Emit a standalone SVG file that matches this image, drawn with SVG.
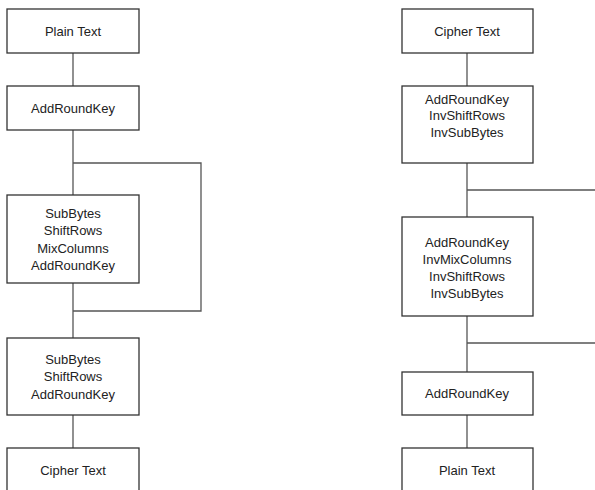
<svg xmlns="http://www.w3.org/2000/svg" width="595" height="490" viewBox="0 0 595 490">
<style>
.box{fill:#fff;stroke:#333;stroke-width:1.3}
.ln{fill:none;stroke:#555;stroke-width:1.3}
text{font-family:"Liberation Sans",Arial,sans-serif;font-size:13px;fill:#222;text-anchor:middle}
</style>
<rect width="595" height="490" fill="#fff"/>
<g id="connectors">
<line class="ln" x1="73" y1="53" x2="73" y2="86"/>
<line class="ln" x1="73" y1="130" x2="73" y2="195"/>
<polyline class="ln" points="73,163 201,163 201,311 73,311"/>
<line class="ln" x1="73" y1="283" x2="73" y2="338"/>
<line class="ln" x1="73" y1="415" x2="73" y2="448"/>
<line class="ln" x1="467" y1="53" x2="467" y2="86"/>
<line class="ln" x1="467" y1="163" x2="467" y2="217"/>
<line class="ln" x1="467" y1="190" x2="595" y2="190"/>
<line class="ln" x1="467" y1="316" x2="467" y2="372"/>
<line class="ln" x1="467" y1="343" x2="595" y2="343"/>
<line class="ln" x1="467" y1="415" x2="467" y2="448"/>
</g>
<g id="enc-plain"><rect class="box" x="7" y="9" width="132" height="44"/><text x="73" y="35.5">Plain Text</text></g>
<g id="enc-ark"><rect class="box" x="7" y="86" width="132" height="44"/><text x="73" y="112.5">AddRoundKey</text></g>
<g id="enc-round"><rect class="box" x="7" y="195" width="132" height="88"/>
<text x="73" y="217.5">SubBytes</text><text x="73" y="235">ShiftRows</text><text x="73" y="252.5">MixColumns</text><text x="73" y="270">AddRoundKey</text></g>
<g id="enc-final"><rect class="box" x="7" y="338" width="132" height="77"/>
<text x="73" y="363.5">SubBytes</text><text x="73" y="381">ShiftRows</text><text x="73" y="398.5">AddRoundKey</text></g>
<g id="enc-cipher"><rect class="box" x="7" y="448" width="132" height="50"/><text x="73" y="474.5">Cipher Text</text></g>
<g id="dec-cipher"><rect class="box" x="402" y="9" width="131" height="44"/><text x="467" y="35.5">Cipher Text</text></g>
<g id="dec-first"><rect class="box" x="402" y="86" width="131" height="77"/>
<text x="467" y="103.5">AddRoundKey</text><text x="467" y="120">InvShiftRows</text><text x="467" y="137">InvSubBytes</text></g>
<g id="dec-round"><rect class="box" x="402" y="217" width="131" height="99"/>
<text x="467" y="246.5">AddRoundKey</text><text x="467" y="263.5">InvMixColumns</text><text x="467" y="280.5">InvShiftRows</text><text x="467" y="297.5">InvSubBytes</text></g>
<g id="dec-ark"><rect class="box" x="402" y="372" width="131" height="43"/><text x="467" y="397.5">AddRoundKey</text></g>
<g id="dec-plain"><rect class="box" x="402" y="448" width="131" height="50"/><text x="467" y="474.5">Plain Text</text></g>
</svg>
